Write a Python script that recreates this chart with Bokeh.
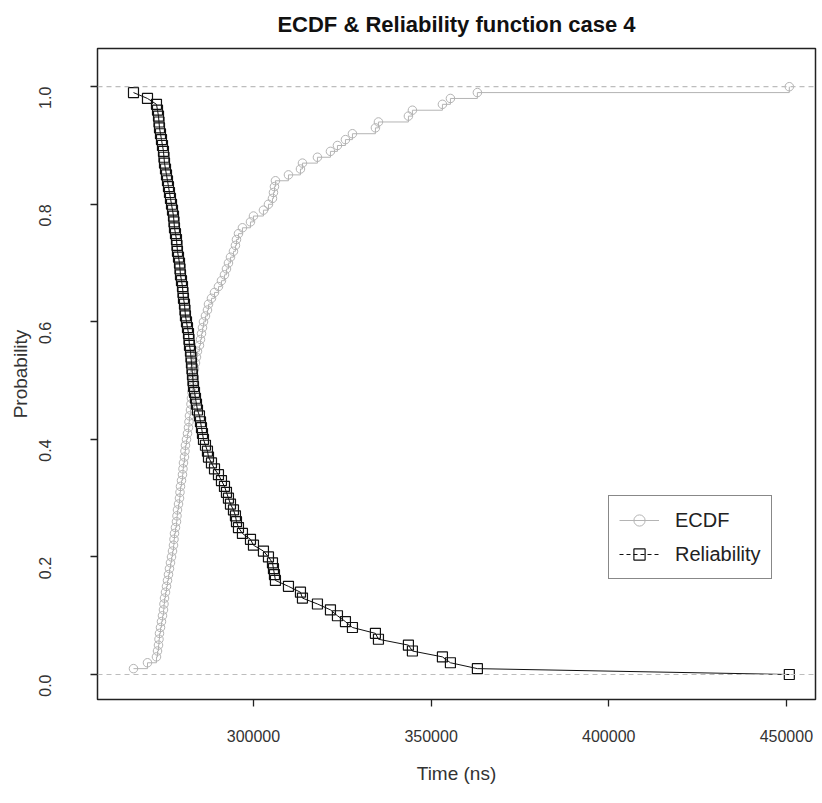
import math
from bokeh.plotting import figure
from bokeh.models import (Range1d, FixedTicker, NumeralTickFormatter, Span, Legend,
                          LegendItem, ColumnDataSource, Title)
from bokeh.embed import file_html
from bokeh.resources import INLINE

# ---- data ----
time_ns = [266230, 270170, 272700, 272990, 273270, 273410, 273550, 273830, 274110, 274390,
           274670, 274810, 274960, 275240, 275520, 275800, 276080, 276360, 276640, 276930,
           277210, 277490, 277630, 277770, 278050, 278330, 278470, 278610, 278900, 279180,
           279320, 279460, 279740, 280020, 280160, 280300, 280580, 280720, 280860, 281150,
           281430, 281710, 281850, 281990, 282270, 282410, 282550, 282690, 282830, 282970,
           283120, 283400, 283680, 283960, 284240, 284800, 285090, 285370, 285650, 285930,
           286490, 287050, 287340, 288180, 289030, 290150, 290990, 291840, 292400, 292960,
           293530, 294370, 294930, 295220, 295780, 296900, 299160, 300000, 302810, 304220,
           305350, 305630, 305910, 306190, 309850, 313230, 313790, 318010, 321670, 323640,
           325890, 327860, 334330, 335180, 343620, 344740, 353190, 355440, 363030, 450830]

ecdf = [0.01, 0.02, 0.03, 0.04, 0.05, 0.06, 0.07, 0.08, 0.09, 0.10,
        0.11, 0.12, 0.13, 0.14, 0.15, 0.16, 0.17, 0.18, 0.19, 0.20,
        0.21, 0.22, 0.23, 0.24, 0.25, 0.26, 0.27, 0.28, 0.29, 0.30,
        0.31, 0.32, 0.33, 0.34, 0.35, 0.36, 0.37, 0.38, 0.39, 0.40,
        0.41, 0.42, 0.43, 0.44, 0.45, 0.46, 0.47, 0.48, 0.49, 0.50,
        0.51, 0.52, 0.53, 0.54, 0.55, 0.56, 0.57, 0.58, 0.59, 0.60,
        0.61, 0.62, 0.63, 0.64, 0.65, 0.66, 0.67, 0.68, 0.69, 0.70,
        0.71, 0.72, 0.73, 0.74, 0.75, 0.76, 0.77, 0.78, 0.79, 0.80,
        0.81, 0.82, 0.83, 0.84, 0.85, 0.86, 0.87, 0.88, 0.89, 0.90,
        0.91, 0.92, 0.93, 0.94, 0.95, 0.96, 0.97, 0.98, 0.99, 1.00]

reliability = [0.99, 0.98, 0.97, 0.96, 0.95, 0.94, 0.93, 0.92, 0.91, 0.90,
               0.89, 0.88, 0.87, 0.86, 0.85, 0.84, 0.83, 0.82, 0.81, 0.80,
               0.79, 0.78, 0.77, 0.76, 0.75, 0.74, 0.73, 0.72, 0.71, 0.70,
               0.69, 0.68, 0.67, 0.66, 0.65, 0.64, 0.63, 0.62, 0.61, 0.60,
               0.59, 0.58, 0.57, 0.56, 0.55, 0.54, 0.53, 0.52, 0.51, 0.50,
               0.49, 0.48, 0.47, 0.46, 0.45, 0.44, 0.43, 0.42, 0.41, 0.40,
               0.39, 0.38, 0.37, 0.36, 0.35, 0.34, 0.33, 0.32, 0.31, 0.30,
               0.29, 0.28, 0.27, 0.26, 0.25, 0.24, 0.23, 0.22, 0.21, 0.20,
               0.19, 0.18, 0.17, 0.16, 0.15, 0.14, 0.13, 0.12, 0.11, 0.10,
               0.09, 0.08, 0.07, 0.06, 0.05, 0.04, 0.03, 0.02, 0.01, 0.00]

x_ticks = [300000, 350000, 400000, 450000]
y_ticks = [0.0, 0.2, 0.4, 0.6, 0.8, 1.0]
ref_levels = [0.0, 1.0]
title_text = "ECDF & Reliability function case 4"

FONT = "Liberation Sans"
ECDF_COLOR = "#b4b4b4"
TEXT_COLOR = "#333333"

p = figure(width=822, height=803, output_backend="svg", toolbar_location=None,
           x_range=Range1d(256100, 458200), y_range=Range1d(-0.0425, 1.065),
           min_border_left=97, min_border_right=7, min_border_top=48, min_border_bottom=104)
p.background_fill_color = "white"
p.border_fill_color = "white"
p.outline_line_color = "#222222"
p.outline_line_width = 1.5
p.grid.visible = False

title = Title(text=title_text, align="center", vertical_align="top",
              text_font=FONT, text_font_size="22px", text_font_style="bold",
              text_color="#111111", standoff=20)
p.add_layout(title, "above")

# axes
p.xaxis.ticker = FixedTicker(ticks=x_ticks)
p.xaxis.formatter = NumeralTickFormatter(format="0")
p.yaxis.ticker = FixedTicker(ticks=y_ticks)
p.yaxis.formatter = NumeralTickFormatter(format="0.0")
p.yaxis.major_label_orientation = math.pi / 2
for ax in (p.xaxis[0], p.yaxis[0]):
    ax.axis_line_color = None
    ax.major_tick_line_color = "#222222"
    ax.major_tick_line_width = 1.3
    ax.major_tick_out = 7
    ax.major_tick_in = 0
    ax.minor_tick_line_color = None
    ax.major_label_text_font = FONT
    ax.major_label_text_font_size = "16px"
    ax.major_label_text_color = TEXT_COLOR
    ax.axis_label_text_font = FONT
    ax.axis_label_text_font_size = "19px"
    ax.axis_label_text_font_style = "normal"
    ax.axis_label_text_color = TEXT_COLOR
p.xaxis.axis_label = "Time (ns)"
p.yaxis.axis_label = "Probability"
p.xaxis.major_label_standoff = 23
p.xaxis.axis_label_standoff = 18
p.yaxis.major_label_standoff = 45
p.yaxis.axis_label_standoff = 0

# reference lines at 0 and 1
for lv in ref_levels:
    p.add_layout(Span(location=lv, dimension="width", line_color="#bdbdbd",
                      line_dash="5 4", line_width=1.2))

src = ColumnDataSource(dict(t=time_ns, f=ecdf, r=reliability))

ecdf_line = p.step("t", "f", source=src, mode="after", line_color=ECDF_COLOR, line_width=1)
ecdf_pts = p.scatter("t", "f", source=src, marker="circle", size=8.5, fill_color=None,
                     line_color=ECDF_COLOR, line_width=1)

rel_line = p.line("t", "r", source=src, line_color="#111111", line_width=1)
rel_pts = p.scatter("t", "r", source=src, marker="square", size=10, fill_color=None,
                    line_color="#111111", line_width=1.2)

# legend proxies (not drawn inside the plot: NaN coordinates)
proxy = ColumnDataSource(dict(t=[float("nan")], v=[float("nan")]))
leg_e_line = p.line("t", "v", source=proxy, line_color=ECDF_COLOR, line_width=1)
leg_e_pt = p.scatter("t", "v", source=proxy, marker="circle", size=8.5, fill_color=None,
                     line_color=ECDF_COLOR)
leg_r_line = p.line("t", "v", source=proxy, line_color="#111111", line_width=1.2,
                    line_dash="4 3")
leg_r_pt = p.scatter("t", "v", source=proxy, marker="square", size=10, fill_color=None,
                     line_color="#111111", line_width=1.2)

legend = Legend(items=[LegendItem(label="ECDF", renderers=[leg_e_line, leg_e_pt]),
                       LegendItem(label="Reliability", renderers=[leg_r_line, leg_r_pt])],
                location=(511, 120), orientation="vertical")
legend.border_line_color = "#111111"
legend.border_line_width = 1.5
legend.background_fill_color = "white"
legend.background_fill_alpha = 1
legend.label_text_font = FONT
legend.label_text_font_size = "20px"
legend.label_text_color = "#222222"
legend.glyph_width = 40
legend.glyph_height = 28
legend.label_standoff = 16
legend.label_height = 28
legend.padding = 10
legend.spacing = 6
legend.margin = 0
p.add_layout(legend, "center")

open("out.html", "w").write(file_html(p, INLINE))
